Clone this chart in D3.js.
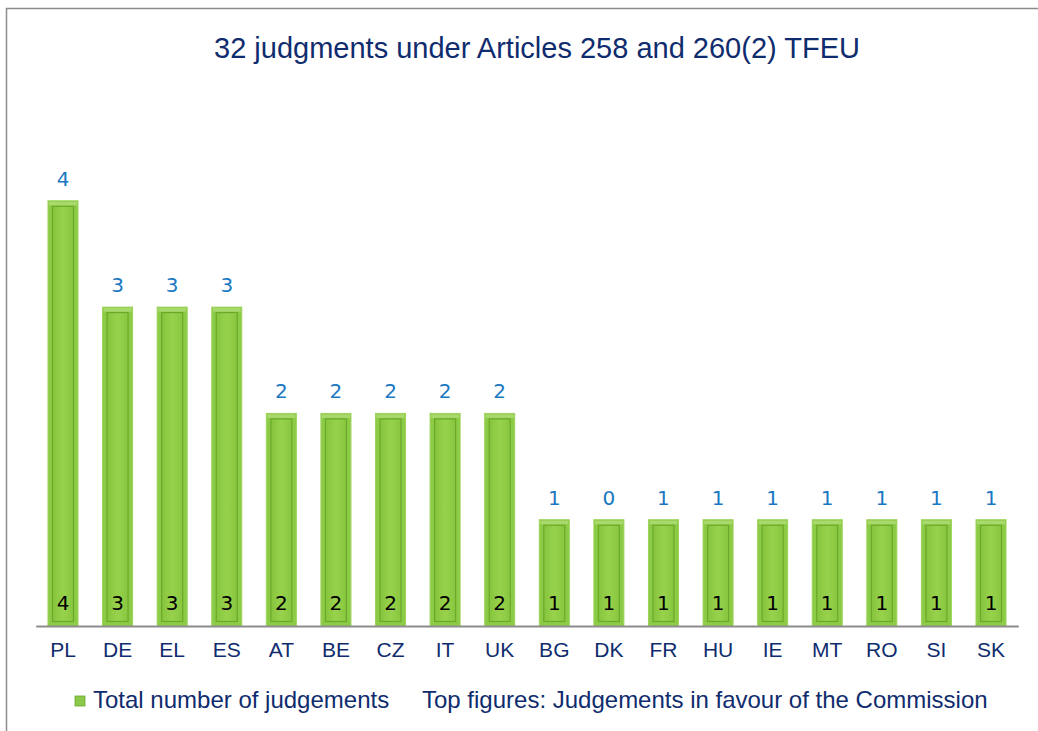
<!DOCTYPE html>
<html><head><meta charset="utf-8">
<script src="https://cdn.jsdelivr.net/npm/d3@7"></script>
<style>body{margin:0;background:#fff}svg{display:block}</style>
</head><body>
<svg id="c" width="1038" height="731"></svg>
<script>
const categories = ["PL","DE","EL","ES","AT","BE","CZ","IT","UK","BG","DK","FR","HU","IE","MT","RO","SI","SK"];
const totalJudgements = [4,3,3,3,2,2,2,2,2,1,1,1,1,1,1,1,1,1];
const inFavour = [4,3,3,3,2,2,2,2,2,1,0,1,1,1,1,1,1,1];
const yTicks = [0,1,2,3,4];

const svg = d3.select("#c");
const W = 1038, H = 731;
const defs = svg.append("defs");
const g1 = defs.append("linearGradient").attr("id","inner").attr("x1","0").attr("x2","1").attr("y1","0").attr("y2","0");
g1.append("stop").attr("offset","0").attr("stop-color","#86c43e");
g1.append("stop").attr("offset","0.5").attr("stop-color","#98d24c");
g1.append("stop").attr("offset","1").attr("stop-color","#88c640");

svg.append("rect").attr("x",6.5).attr("y",8.5).attr("width",W).attr("height",H).attr("fill","#fff").attr("stroke","#8c8c8c").attr("stroke-width",1.5);

svg.append("text").attr("x",537).attr("y",58).attr("text-anchor","middle")
  .attr("font-family","Liberation Sans, Arial, sans-serif").attr("font-size",29).attr("fill","#0f2c6e")
  .text("32 judgments under Articles 258 and 260(2) TFEU");

const x = d3.scaleBand().domain(categories).range([35.7,1018.3]).paddingInner(0.45).paddingOuter(0.225);
const y = d3.scaleLinear().domain([0,4]).range([626,200.8]);

const data = categories.map((c,i)=>({c, t:totalJudgements[i], f:inFavour[i]}));
const bars = svg.append("g").selectAll("g").data(data).join("g");
bars.append("rect").attr("x",d=>x(d.c)).attr("y",d=>y(d.t)).attr("width",x.bandwidth()).attr("height",d=>y(0)-y(d.t))
  .attr("fill","#8ccb45").attr("stroke","#9ed35c").attr("stroke-width",1);
bars.append("rect").attr("x",d=>x(d.c)+4.5).attr("y",d=>y(d.t)+5.5).attr("width",x.bandwidth()-9).attr("height",d=>y(0)-y(d.t)-10)
  .attr("fill","url(#inner)").attr("stroke","#6aa82a").attr("stroke-width",1.2);
bars.append("rect").attr("x",d=>x(d.c)+1).attr("y",d=>y(d.t)+1).attr("width",x.bandwidth()-2).attr("height",3.5)
  .attr("fill","#a9d96c");

// axis
const axis = svg.append("g").attr("transform","translate(0,626)").call(d3.axisBottom(x).tickSize(0).tickPadding(16));
axis.select(".domain").attr("stroke","#8c8c8c").attr("stroke-width",2);
axis.selectAll("text").attr("font-family","Liberation Sans, Arial, sans-serif").attr("font-size",21).attr("fill","#0f2c6e");

// top labels
svg.append("g").selectAll("text").data(data).join("text")
  .attr("x",d=>x(d.c)+x.bandwidth()/2).attr("y",d=>y(d.t)-15).attr("text-anchor","middle")
  .attr("font-family","DejaVu Sans, Verdana, sans-serif").attr("font-size",20).attr("fill","#1a78c2")
  .text(d=>d.f);
// inside labels
svg.append("g").selectAll("text").data(data).join("text")
  .attr("x",d=>x(d.c)+x.bandwidth()/2).attr("y",610).attr("text-anchor","middle")
  .attr("font-family","DejaVu Sans, Verdana, sans-serif").attr("font-size",20).attr("fill","#000")
  .text(d=>d.t);

// legend
svg.append("rect").attr("x",75).attr("y",696).attr("width",10).attr("height",10).attr("fill","#8cc84a").attr("stroke","#6aa82a").attr("stroke-width",0.8);
svg.append("text").attr("x",93).attr("y",708).attr("font-family","Liberation Sans, Arial, sans-serif").attr("font-size",24).attr("fill","#0f2c6e").text("Total number of judgements");
svg.append("text").attr("x",422).attr("y",708).attr("font-family","Liberation Sans, Arial, sans-serif").attr("font-size",24).attr("fill","#0f2c6e").text("Top figures: Judgements in favour of the Commission");
</script>
</body></html>
